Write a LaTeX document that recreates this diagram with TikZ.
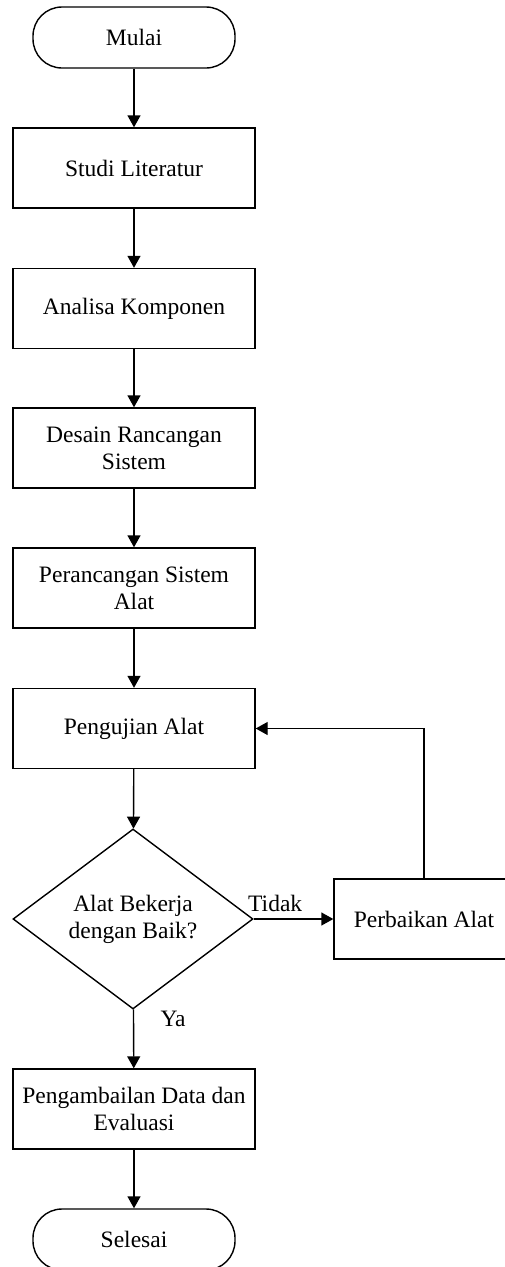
\documentclass[tikz,border=0pt]{standalone}
\usepackage{fontspec}
\setmainfont{Liberation Serif}
\usetikzlibrary{shapes.geometric,arrows.meta}

\begin{document}
\begin{tikzpicture}[x=1bp, y=-1bp, line width=1.4bp, >={Triangle[width=13bp,length=12bp]},
  font=\fontsize{23.6}{27}\selectfont]
  \tikzstyle{terminal}=[draw,rectangle,rounded corners=29bp,minimum width=202bp,minimum height=61bp,inner sep=0pt]
  \tikzstyle{process}=[draw,rectangle,minimum width=242bp,minimum height=80bp,inner sep=0pt,align=center]
  \tikzstyle{decision}=[draw,diamond,aspect=1.33,minimum width=240bp,minimum height=180bp,inner sep=0pt,align=center]

  \useasboundingbox (0, 0) rectangle (505, 1267);

  \node[terminal] at (134, 37.5) (mulai) {Mulai};

  \node[process] at (134, 168) (studi) {Studi Literatur};

  \node[process] at (134, 308.5) (analisa) {Analisa Komponen};

  \node[process] at (134, 448) (desain) {Desain Rancangan\\Sistem};

  \node[process] at (134, 588) (perancangan) {Perancangan Sistem\\Alat};

  \node[process] at (134, 728.5) (pengujian) {Pengujian Alat};

  \node[decision] at (133, 919) (cek) {Alat Bekerja\\dengan Baik?};

  \node[process, minimum width=190bp] at (429, 919) (perbaikan) {\hspace*{-10bp}Perbaikan Alat};

  \node[process] at (134, 1109) (pengambilan) {Pengambailan Data dan\\Evaluasi};

  \node[terminal] at (134, 1239.5) (selesai) {Selesai};

  \draw[->] (mulai) -- (studi);

  \draw[->] (studi) -- (analisa);

  \draw[->] (analisa) -- (desain);

  \draw[->] (desain) -- (perancangan);

  \draw[->] (perancangan) -- (pengujian);

  \draw[->] (pengujian) -- (cek);

  \draw[->] (cek) -- node[above=3bp, pos=0.27] {Tidak} (perbaikan);

  \draw[->] (perbaikan.north -| 424, 0) |- (pengujian.east);

  \draw[->] (cek) -- node[right=23bp, pos=0.17] {Ya} (pengambilan);

  \draw[->] (pengambilan) -- (selesai);

  \end{tikzpicture}
\end{document}
